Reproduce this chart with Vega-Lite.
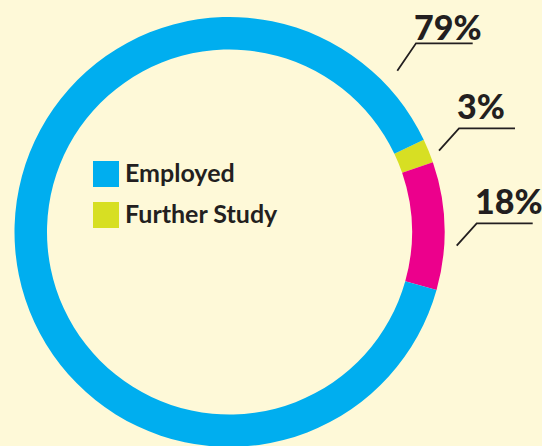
{
  "$schema": "https://vega.github.io/schema/vega-lite/v6.json",
  "width": 459,
  "height": 464,
  "autosize": {"type": "none"},
  "padding": {"left": 0, "top": 0, "right": 83, "bottom": 0},
  "background": "#FEF9D8",
  "config": {
    "view": {"stroke": null},
    "legend": {
      "orient": "none",
      "legendX": 93,
      "legendY": 161,
      "padding": 0,
      "symbolType": "square",
      "symbolSize": 676,
      "symbolStrokeWidth": 0,
      "symbolOpacity": 1,
      "labelFont": "Lato",
      "labelFontSize": 25,
      "labelFontWeight": "bold",
      "labelColor": "#231F20",
      "labelOffset": 6,
      "rowPadding": 15,
      "labelLimit": 300
    }
  },
  "datasets": {
    "ring": [
      {"category": "Further Study", "share": 1.8, "seq": 1},
      {"category": "Other", "share": 9.6, "seq": 2},
      {"category": "Employed", "share": 88.6, "seq": 3}
    ],
    "leaders": [
      {"label": "79%", "seq": 1, "x": 397.3, "y": 70.7},
      {"label": "79%", "seq": 2, "x": 416, "y": 43.3},
      {"label": "79%", "seq": 3, "x": 472.7, "y": 43.3},
      {"label": "3%", "seq": 1, "x": 439, "y": 150.7},
      {"label": "3%", "seq": 2, "x": 459, "y": 128.3},
      {"label": "3%", "seq": 3, "x": 515, "y": 128.3},
      {"label": "18%", "seq": 1, "x": 456.7, "y": 245.7},
      {"label": "18%", "seq": 2, "x": 476.7, "y": 223.3},
      {"label": "18%", "seq": 3, "x": 532.7, "y": 223.3}
    ],
    "labels": [
      {"label": "79%", "x": 414, "y": 40},
      {"label": "3%", "x": 457, "y": 119.3},
      {"label": "18%", "x": 475, "y": 214.3}
    ]
  },
  "layer": [
    {
      "data": {"name": "ring"},
      "mark": {"type": "arc", "outerRadius": 215, "innerRadius": 182.5},
      "encoding": {
        "theta": {"field": "share", "type": "quantitative", "stack": true, "scale": {"range": [1.1275, 7.4107]}},
        "order": {"field": "seq", "type": "quantitative"},
        "color": {
          "field": "category",
          "type": "nominal",
          "scale": {"domain": ["Employed", "Further Study", "Other"], "range": ["#00AEEF", "#D7DF23", "#EC008C"]},
          "legend": {"title": null, "values": ["Employed", "Further Study"]}
        }
      }
    },
    {
      "data": {"name": "leaders"},
      "mark": {"type": "line", "color": "#231F20", "strokeWidth": 1.8, "strokeCap": "butt", "strokeJoin": "miter"},
      "encoding": {
        "x": {"field": "x", "type": "quantitative", "scale": {"domain": [0, 459], "nice": false, "zero": false}, "axis": null},
        "y": {"field": "y", "type": "quantitative", "scale": {"domain": [0, 464], "nice": false, "zero": false, "reverse": true}, "axis": null},
        "detail": {"field": "label"},
        "order": {"field": "seq", "type": "quantitative"}
      }
    },
    {
      "data": {"name": "labels"},
      "mark": {"type": "text", "font": "Lato", "fontSize": 34, "fontWeight": 900, "color": "#231F20", "align": "left", "baseline": "alphabetic"},
      "encoding": {
        "x": {"field": "x", "type": "quantitative", "scale": {"domain": [0, 459], "nice": false, "zero": false}, "axis": null},
        "y": {"field": "y", "type": "quantitative", "scale": {"domain": [0, 464], "nice": false, "zero": false, "reverse": true}, "axis": null},
        "text": {"field": "label"}
      }
    }
  ]
}
